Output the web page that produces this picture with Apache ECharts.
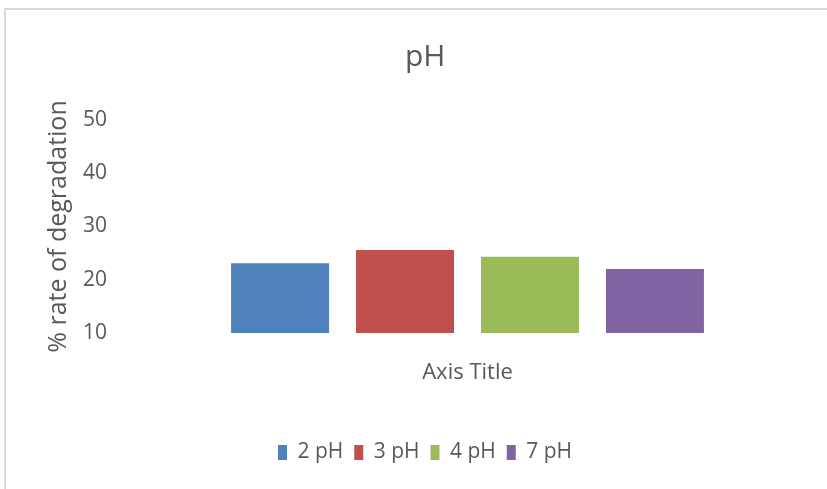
<!DOCTYPE html>
<html>
<head>
<meta charset="utf-8">
<script src="https://cdn.jsdelivr.net/npm/echarts@6/dist/echarts.min.js"></script>
<style>
  html, body { margin: 0; padding: 0; background: #fff; }
  #chart { width: 827px; height: 489px; }
</style>
</head>
<body>
<div id="chart"></div>
<script>
  // data
  var categories = ['pH'];
  var seriesNames = ['2 pH', '3 pH', '4 pH', '7 pH'];
  var seriesValues = [23.1, 25.6, 24.3, 22.0];
  var yTicks = [10, 20, 30, 40, 50];
  var colors = ['#4F81BD', '#C0504D', '#9BBB59', '#8064A2'];

  var fontFam = '"Open Sans", sans-serif';
  var textColor = '#595959';

  var myChart = echarts.init(document.getElementById('chart'));

  var series = seriesNames.map(function (name, i) {
    return {
      name: name,
      type: 'bar',
      barWidth: 98,
      barGap: '27.5%',
      itemStyle: { color: colors[i] },
      data: [seriesValues[i]]
    };
  });

  var option = {
    animation: false,
    color: colors,
    textStyle: { fontFamily: fontFam },
    graphic: [{
      type: 'rect',
      shape: { x: 5, y: 9, width: 900, height: 600 },
      style: { fill: 'none', stroke: '#d9d9d9', lineWidth: 2 },
      silent: true
    }],
    title: {
      text: 'pH',
      left: 400,
      top: 37,
      textStyle: { fontSize: 30, fontWeight: 'normal', color: textColor, fontFamily: fontFam }
    },
    legend: {
      data: seriesNames,
      top: 437,
      left: 273,
      icon: 'rect',
      itemWidth: 9,
      itemHeight: 15,
      itemGap: 11,
      formatter: ' {name}',
      textStyle: { fontSize: 21, color: textColor, fontFamily: fontFam }
    },
    grid: { left: 115, right: 7, top: 120, bottom: 156 },
    xAxis: {
      type: 'category',
      data: categories,
      name: 'Axis Title',
      nameLocation: 'middle',
      nameGap: 29,
      nameTextStyle: { fontSize: 22, color: textColor, fontFamily: fontFam },
      axisLine: { show: false },
      axisTick: { show: false },
      axisLabel: { show: false }
    },
    yAxis: {
      type: 'value',
      min: yTicks[0],
      max: yTicks[yTicks.length - 1],
      interval: 10,
      name: '% rate of degradation',
      nameLocation: 'middle',
      nameGap: 44,
      nameTextStyle: { fontSize: 25, color: textColor, fontFamily: fontFam },
      axisLine: { show: false },
      axisTick: { show: false },
      splitLine: { show: false },
      axisLabel: { fontSize: 21, color: textColor, margin: 8, fontFamily: fontFam }
    },
    series: series
  };

  myChart.setOption(option);
</script>
</body>
</html>
